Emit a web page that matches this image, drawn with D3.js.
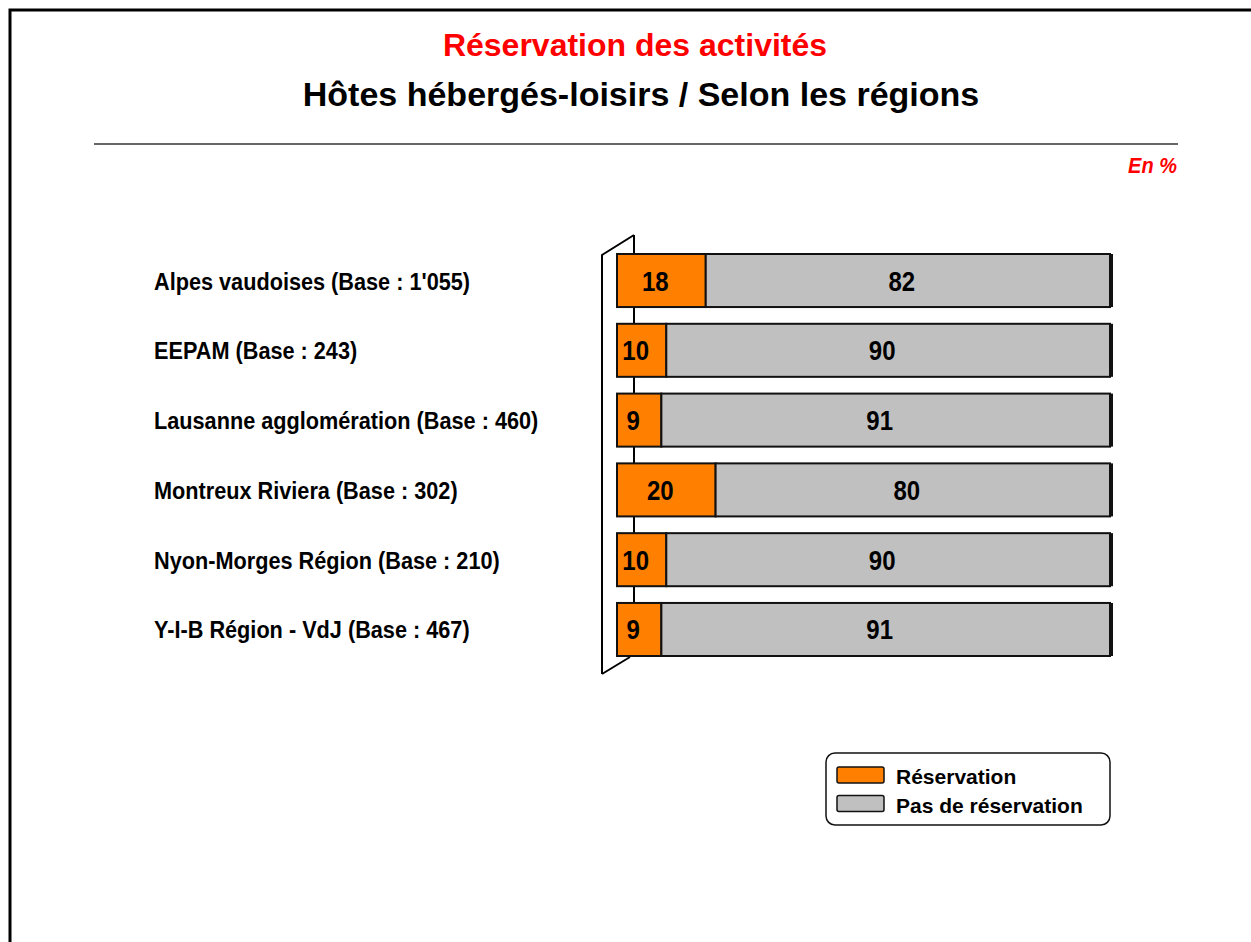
<!DOCTYPE html>
<html>
<head>
<meta charset="utf-8">
<script src="https://cdn.jsdelivr.net/npm/d3@7"></script>
<style>
  body { margin: 0; background: #fff; }
  svg { display: block; font-family: "Liberation Sans", Arial, sans-serif; }
</style>
</head>
<body>
<div id="chart"></div>
<script>
// --- data ---
const regions = [
  "Alpes vaudoises (Base : 1'055)",
  "EEPAM (Base : 243)",
  "Lausanne agglomération (Base : 460)",
  "Montreux Riviera (Base : 302)",
  "Nyon-Morges Région (Base : 210)",
  "Y-I-B Région - VdJ (Base : 467)"
];
const reservation = [18, 10, 9, 20, 10, 9];
const pasReservation = [82, 90, 91, 80, 90, 91];
const seriesNames = ["Réservation", "Pas de réservation"];
const seriesColors = ["#FF8000", "#C0C0C0"];

const W = 1251, H = 942;
const stretch = 1.12; // text in the source is a bit taller than wide
const svg = d3.select("#chart").append("svg")
  .attr("width", W)
  .attr("height", H);

// frame (top + left edges only visible)
svg.append("path")
  .attr("d", `M10,${H} L10,10 L${W},10`)
  .attr("fill", "none")
  .attr("stroke", "#000")
  .attr("stroke-width", 3);

// titles
svg.append("text")
  .attr("x", 635).attr("y", 56)
  .attr("text-anchor", "middle")
  .style("font-size", "32px").style("font-weight", "bold")
  .attr("fill", "#FF0000")
  .text("Réservation des activités");

svg.append("text")
  .attr("x", 641).attr("y", 106)
  .attr("text-anchor", "middle")
  .style("font-size", "34px").style("font-weight", "bold")
  .attr("fill", "#000")
  .text("Hôtes hébergés-loisirs / Selon les régions");

svg.append("line")
  .attr("x1", 94).attr("x2", 1178)
  .attr("y1", 144).attr("y2", 144)
  .attr("stroke", "#333").attr("stroke-width", 1.5);

svg.append("text")
  .attr("transform", `translate(1177,173) scale(1,${stretch})`)
  .attr("text-anchor", "end")
  .style("font-size", "20px").style("font-weight", "bold").style("font-style", "italic")
  .attr("fill", "#FF0000")
  .text("En %");

// scales
const x = d3.scaleLinear().domain([0, 100]).range([617, 1110]);
const y = d3.scaleBand().domain(regions).range([254, 656]).paddingInner(0.24).paddingOuter(0);

const rows = regions.map((r, i) => ({
  region: r,
  vals: [reservation[i], pasReservation[i]]
}));

// 3D wall behind the category axis
const wx = x(0);
const yTop = y.range()[0], yBot = y.range()[1];
const wall = svg.append("g").attr("fill", "none").attr("stroke", "#000").attr("stroke-width", 2);
wall.append("path") // back edge
  .attr("d", `M${wx + 17},${yTop - 19} L${wx + 17},${yBot}`);
wall.append("path") // front edge + top diagonal
  .attr("d", `M${wx - 15},${yBot + 18} L${wx - 15},${yTop + 1} L${wx + 17},${yTop - 19}`);
wall.append("path") // bottom diagonal
  .attr("d", `M${wx - 15},${yBot + 18} L${wx + 13},${yBot + 1}`);

// bars
const barG = svg.append("g");
rows.forEach(row => {
  let acc = 0;
  const segs = row.vals.map((v, k) => {
    const s = { k, x0: acc, x1: acc + v, v };
    acc += v;
    return s;
  });
  const g = barG.append("g");
  // right-side depth shadow
  g.append("rect")
    .attr("x", x(acc) - 1)
    .attr("y", y(row.region))
    .attr("width", 4)
    .attr("height", y.bandwidth())
    .attr("fill", "#111");
  g.selectAll("rect.seg")
    .data(segs)
    .join("rect")
    .attr("class", "seg")
    .attr("x", d => x(d.x0))
    .attr("y", y(row.region))
    .attr("width", d => x(d.x1) - x(d.x0))
    .attr("height", y.bandwidth())
    .attr("fill", d => seriesColors[d.k])
    .attr("stroke", "#111")
    .attr("stroke-width", 2);
  g.selectAll("text.val")
    .data(segs)
    .join("text")
    .attr("class", "val")
    .attr("transform", d => `translate(${(x(d.x0) + x(d.x1)) / 2 - 6},${y(row.region) + y.bandwidth() / 2 + 10}) scale(1,${stretch})`)
    .attr("text-anchor", "middle")
    .style("font-size", "24px").style("font-weight", "bold")
    .attr("fill", "#000")
    .text(d => d.v);
});

// category labels
svg.append("g").selectAll("text")
  .data(regions)
  .join("text")
  .attr("transform", d => `translate(154,${y(d) + y.bandwidth() / 2 + 9}) scale(1,${stretch})`)
  .style("font-size", "21.7px").style("font-weight", "bold")
  .attr("fill", "#000")
  .text(d => d);

// legend
const lg = svg.append("g");
lg.append("rect")
  .attr("x", 826).attr("y", 753)
  .attr("width", 284).attr("height", 72)
  .attr("rx", 9)
  .attr("fill", "#fff").attr("stroke", "#111").attr("stroke-width", 1.5);
seriesNames.forEach((n, i) => {
  lg.append("rect")
    .attr("x", 837).attr("y", 767 + i * 28.5)
    .attr("width", 47).attr("height", 16)
    .attr("rx", 2)
    .attr("fill", seriesColors[i]).attr("stroke", "#111").attr("stroke-width", 1.5);
  lg.append("text")
    .attr("x", 896).attr("y", 784 + i * 28.5)
    .style("font-size", "21px").style("font-weight", "bold")
    .attr("fill", "#000")
    .text(n);
});
</script>
</body>
</html>
